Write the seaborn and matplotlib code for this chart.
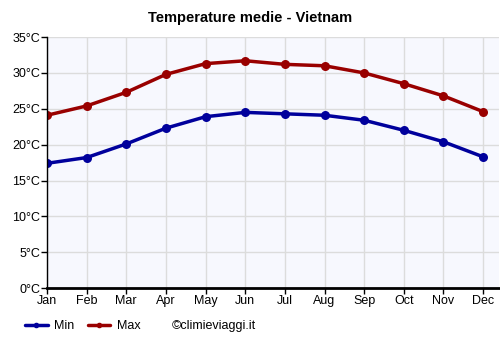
import matplotlib
matplotlib.use("Agg")
import matplotlib.pyplot as plt
import seaborn as sns
import pandas as pd
from matplotlib.lines import Line2D

months = ["Jan", "Feb", "Mar", "Apr", "May", "Jun",
          "Jul", "Aug", "Sep", "Oct", "Nov", "Dec"]
t_min = [17.4, 18.2, 20.1, 22.3, 23.9, 24.5, 24.3, 24.1, 23.4, 22.0, 20.4, 18.3]
t_max = [24.1, 25.4, 27.3, 29.8, 31.3, 31.7, 31.2, 31.0, 30.0, 28.5, 26.8, 24.6]
y_ticks = [0, 5, 10, 15, 20, 25, 30, 35]

MIN_COLOR = "#00009c"
MAX_COLOR = "#990000"

df = pd.DataFrame({"month": months, "Min": t_min, "Max": t_max})
df["x"] = range(len(months))

sns.set_style("white")
plt.rcParams["font.family"] = ["Liberation Sans", "DejaVu Sans"]
plt.rcParams["text.color"] = "black"
plt.rcParams["xtick.color"] = "black"
plt.rcParams["ytick.color"] = "black"

fig = plt.figure(figsize=(5, 3.5), dpi=100)
ax = fig.add_axes([0.094, 0.177, 0.904, 0.717])
ax.set_facecolor("#f7f8fe")

sns.lineplot(data=df, x="x", y="Min", color=MIN_COLOR, linewidth=2.5,
             marker="o", markersize=6.5, markeredgewidth=0, ax=ax)
sns.lineplot(data=df, x="x", y="Max", color=MAX_COLOR, linewidth=2.5,
             marker="o", markersize=6.5, markeredgewidth=0, ax=ax)

ax.set_xlim(0, 11.4)
ax.set_ylim(0, 35)
ax.set_xticks(df["x"])
ax.set_xticklabels(months)
ax.set_yticks(y_ticks)
ax.set_yticklabels([f"{v}°C" for v in y_ticks])
ax.grid(True, color="#dcdcdc", linewidth=1)
ax.set_axisbelow(True)
ax.set_xlabel("")
ax.set_ylabel("")
ax.tick_params(axis="both", labelsize=9, length=4, width=1, color="black",
               labelcolor="black", pad=1, direction="out")
ax.tick_params(axis="both", bottom=True, left=True)
for side in ["top", "right"]:
    ax.spines[side].set_visible(False)
ax.spines["left"].set_color("black")
ax.spines["left"].set_linewidth(1)
ax.spines["bottom"].set_color("black")
ax.spines["bottom"].set_linewidth(2)

fig.text(0.5, 0.948, "Temperature medie - Vietnam", ha="center", va="center",
         fontsize=10.5, fontweight="bold", color="black")

handles = [Line2D([], [], color=MIN_COLOR, linewidth=2.5, marker="o", markersize=3),
           Line2D([], [], color=MAX_COLOR, linewidth=2.5, marker="o", markersize=3)]
fig.legend(handles, ["Min", "Max"], loc="center left", bbox_to_anchor=(0.05, 0.068),
           ncol=2, frameon=False, fontsize=9, handlelength=1.8,
           handletextpad=0.5, columnspacing=1.1, borderpad=0, borderaxespad=0)
fig.text(0.343, 0.068, "©climieviaggi.it", ha="left", va="center", fontsize=9,
         color="black")

fig.savefig("out.png", dpi=100)
